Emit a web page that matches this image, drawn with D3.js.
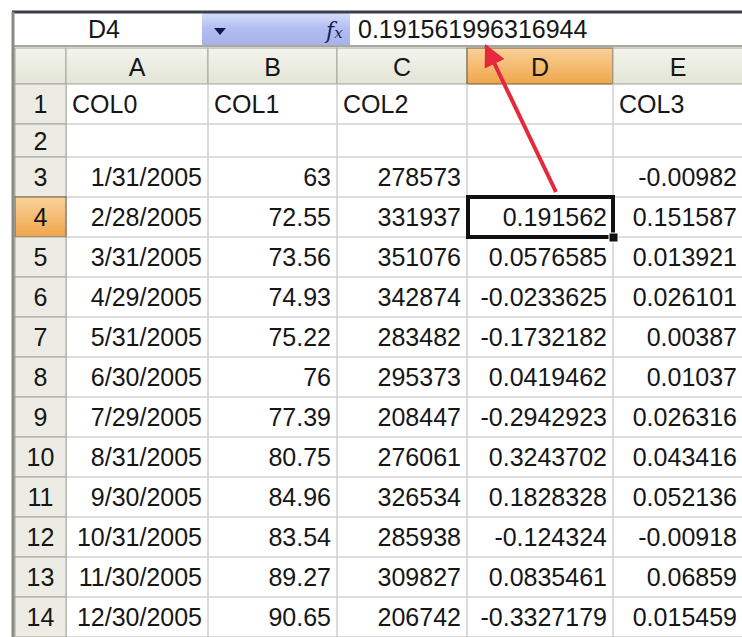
<!DOCTYPE html>
<html>
<head>
<meta charset="utf-8">
<script src="https://cdn.jsdelivr.net/npm/d3@7"></script>
<style>
  body { margin: 0; background: #fff; }
  svg { display: block; }
  text { font-family: "Liberation Sans", Arial, sans-serif; font-size: 25px; fill: #161616; }
</style>
</head>
<body>
<svg id="sheet" width="742" height="637"></svg>
<script>
const svg = d3.select('#sheet');

// Sheet data
const colLetters = ['A', 'B', 'C', 'D', 'E'];
const headerRow = ['COL0', 'COL1', 'COL2', '', 'COL3'];
const dates = ['1/31/2005', '2/28/2005', '3/31/2005', '4/29/2005', '5/31/2005', '6/30/2005',
               '7/29/2005', '8/31/2005', '9/30/2005', '10/31/2005', '11/30/2005', '12/30/2005'];
const col1 = [63, 72.55, 73.56, 74.93, 75.22, 76, 77.39, 80.75, 84.96, 83.54, 89.27, 90.65];
const col2 = [278573, 331937, 351076, 342874, 283482, 295373, 208447, 276061, 326534, 285938, 309827, 206742];
const colD = [null, 0.191562, 0.0576585, -0.0233625, -0.1732182, 0.0419462, -0.2942923,
              0.3243702, 0.1828328, -0.124324, 0.0835461, -0.3327179];
const col3 = [-0.00982, 0.151587, 0.013921, 0.026101, 0.00387, 0.01037, 0.026316,
              0.043416, 0.052136, -0.00918, 0.06859, 0.015459];
const activeCol = 'D';
const activeRow = 4;
const activeValue = '0.191561996316944';

// Layout
const W = 742, H = 637;
const rowHeadX = 15, rowHeadW = 51;
const colEdges = [66, 208, 337, 467, 613, 743];
const headTop = 48, headBottom = 84;

const colX = d3.scaleOrdinal().domain(colLetters).range(colEdges.slice(0, -1));
const colW = d3.scaleOrdinal().domain(colLetters).range(d3.pairs(colEdges).map(([a, b]) => b - a));

const dataRows = d3.range(3, 15);
const rowY = d3.scaleBand().domain(dataRows).range([157, 637]);

const rows = [
  { n: 1, top: 84, h: 40, values: headerRow, align: 'start' },
  { n: 2, top: 124, h: 33, values: [], align: 'end' }
].concat(dataRows.map((n, i) => ({
  n, top: rowY(n), h: rowY.bandwidth(),
  values: [dates[i], col1[i], col2[i], colD[i], col3[i]], align: 'end'
})));

const defs = svg.append('defs');
const grad = (id, stops) => {
  const g = defs.append('linearGradient').attr('id', id)
    .attr('x1', 0).attr('y1', 0).attr('x2', 0).attr('y2', 1);
  stops.forEach(([o, c]) => g.append('stop').attr('offset', o).attr('stop-color', c));
};
grad('headGrad', [[0, '#f4f5ee'], [1, '#e2e4d6']]);
grad('selGrad', [[0, '#fad29a'], [1, '#f0a54a']]);
grad('blueGrad', [[0, '#d6ddfa'], [0.5, '#b2bdf0'], [1, '#a6b2ea']]);

// Formula bar
svg.append('rect').attr('x', 12).attr('y', 12).attr('width', W).attr('height', 34).attr('fill', '#fff');
svg.append('rect').attr('x', 202).attr('y', 13).attr('width', 148).attr('height', 32).attr('fill', 'url(#blueGrad)');
svg.append('line').attr('x1', 12).attr('x2', W).attr('y1', 12).attr('y2', 12)
  .attr('stroke', '#3a3e48').attr('stroke-width', 3);
svg.append('line').attr('x1', 12).attr('x2', W).attr('y1', 46).attr('y2', 46)
  .attr('stroke', '#a8a8a0').attr('stroke-width', 2);
svg.append('text').attr('x', 104).attr('y', 38).attr('text-anchor', 'middle').text(activeCol + activeRow);
svg.append('path').attr('d', 'M214,28 L226,28 L220,35 Z').attr('fill', '#10184a');
svg.append('text').attr('x', 326).attr('y', 38)
  .style('font-family', '"DejaVu Serif", serif').style('font-style', 'italic')
  .style('font-size', '22px').style('fill', '#14205a')
  .text('f').append('tspan').style('font-size', '15px').text('x');
svg.append('text').attr('x', 358).attr('y', 38).text(activeValue);

// Column header row
const head = svg.append('g');
head.append('rect').attr('x', rowHeadX).attr('y', headTop).attr('width', rowHeadW)
  .attr('height', headBottom - headTop).attr('fill', 'url(#headGrad)').attr('stroke', '#a4a49a');
head.selectAll('rect.col').data(colLetters).enter().append('rect')
  .attr('class', 'col')
  .attr('x', d => colX(d)).attr('y', headTop)
  .attr('width', d => colW(d)).attr('height', headBottom - headTop)
  .attr('fill', d => d === activeCol ? 'url(#selGrad)' : 'url(#headGrad)')
  .attr('stroke', d => d === activeCol ? '#6a5a40' : '#a4a49a');
head.selectAll('text').data(colLetters).enter().append('text')
  .attr('x', d => colX(d) + colW(d) / 2)
  .attr('y', headBottom - 8)
  .attr('text-anchor', 'middle')
  .text(d => d);

// Cell grid
const grid = svg.append('g');
grid.selectAll('line.h').data(rows).enter().append('line')
  .attr('x1', colEdges[0]).attr('x2', W)
  .attr('y1', d => d.top + d.h).attr('y2', d => d.top + d.h)
  .attr('stroke', '#d2d2d2').attr('stroke-width', 1.5);
grid.selectAll('line.v').data(colLetters).enter().append('line')
  .attr('x1', d => colX(d)).attr('x2', d => colX(d))
  .attr('y1', headBottom).attr('y2', H)
  .attr('stroke', '#cfcfcf').attr('stroke-width', 1.5);

// Row headers
const rh = svg.append('g');
rh.selectAll('rect').data(rows).enter().append('rect')
  .attr('x', rowHeadX).attr('y', d => d.top)
  .attr('width', rowHeadW).attr('height', d => d.h)
  .attr('fill', d => d.n === activeRow ? 'url(#selGrad)' : '#ecece4')
  .attr('stroke', d => d.n === activeRow ? '#6a5a40' : '#a4a49a');
rh.selectAll('text').data(rows).enter().append('text')
  .attr('x', rowHeadX + rowHeadW / 2)
  .attr('y', d => d.top + d.h / 2 + 9)
  .attr('text-anchor', 'middle')
  .text(d => d.n);
svg.append('line').attr('x1', 13).attr('x2', 13).attr('y1', 12).attr('y2', H)
  .attr('stroke', '#8a8a84').attr('stroke-width', 3);

// Cell values
const cells = svg.append('g');
rows.forEach(r => {
  cells.selectAll(null).data(r.values.map((v, i) => ({ v, c: colLetters[i] })).filter(d => d.v !== null && d.v !== ''))
    .enter().append('text')
    .attr('x', d => r.align === 'start' ? colX(d.c) + 6 : colX(d.c) + colW(d.c) - 6)
    .attr('y', r.top + r.h / 2 + 9)
    .attr('text-anchor', r.align)
    .text(d => String(d.v));
});

// Active cell outline
const ax = colX(activeCol), aw = colW(activeCol);
const ay = rowY(activeRow), ah = rowY.bandwidth();
svg.append('rect').attr('x', ax + 1).attr('y', ay).attr('width', aw - 1).attr('height', ah)
  .attr('fill', 'none').attr('stroke', '#111').attr('stroke-width', 4);
svg.append('rect').attr('x', ax + aw - 4).attr('y', ay + ah - 4).attr('width', 9).attr('height', 9)
  .attr('fill', '#111').attr('stroke', '#fff').attr('stroke-width', 1);

// Red arrow from the cell to the formula bar
const arrowColor = '#e5283c';
defs.append('marker').attr('id', 'head')
  .attr('markerUnits', 'userSpaceOnUse')
  .attr('viewBox', '0 0 10 10').attr('refX', 9).attr('refY', 5)
  .attr('markerWidth', 24).attr('markerHeight', 22).attr('orient', 'auto')
  .append('path').attr('d', 'M0,0 L10,5 L0,10 Z').attr('fill', arrowColor);
svg.append('line')
  .attr('x1', ax + 89).attr('y1', ay - 5)
  .attr('x2', 486).attr('y2', 46)
  .attr('stroke', arrowColor).attr('stroke-width', 4)
  .attr('marker-end', 'url(#head)');
</script>
</body>
</html>
